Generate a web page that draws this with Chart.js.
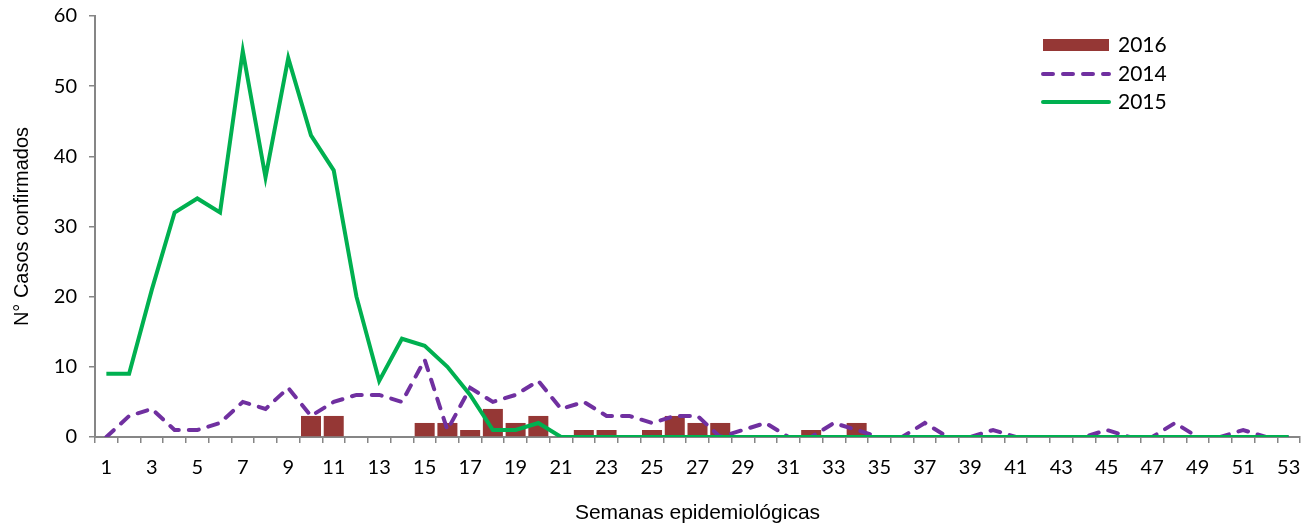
<!DOCTYPE html>
<html>
<head>
<meta charset="utf-8">
<script src="https://cdn.jsdelivr.net/npm/chart.js@4.4.1/dist/chart.umd.min.js"></script>
<style>
  body { margin: 0; background: #fff; }
  #wrap { width: 1314px; height: 527px; position: relative; }
</style>
</head>
<body>
<div id="wrap"><canvas id="myChart"></canvas></div>
<script>
// semanas epidemiologicas 1..53
var semanas = [];
for (var s = 1; s <= 53; s++) { semanas.push(String(s)); }

var casos2016 = [0,0,0,0,0,0,0,0,0,3,3,0,0,0,2,2,1,4,2,3,0,1,1,0,1,3,2,2,0,0,0,1,0,2,
                 0,0,0,0,0,0,0,0,0,0,0,0,0,0,0,0,0,0,0];
var casos2014 = [0,3,4,1,1,2,5,4,7,3,5,6,6,5,11,1,7,5,6,8,4,5,3,3,2,3,3,0,1,2,0,0,2,1,
                 0,0,2,0,0,1,0,0,0,0,1,0,0,2,0,0,1,0,0];
var casos2015 = [9,9,21,32,34,32,55,37,54,43,38,20,8,14,13,10,6,1,1,2,0,0,0,0,0,0,0,0,0,0,
                 0,0,0,0,0,0,0,0,0,0,0,0,0,0,0,0,0,0,0,0,0,0,0];
var yTicks = [0, 10, 20, 30, 40, 50, 60];

var rojo = '#953735';
var morado = '#7030A0';
var verde = '#00B050';
var gris = '#868686';

// leyenda vertical arriba a la derecha
var leyenda = {
    id: 'leyenda',
    afterDraw: function(chart) {
        var ctx = chart.ctx;
        var x0 = 1043, x1 = 1109, tx = 1118;
        ctx.save();
        ctx.fillStyle = rojo;
        ctx.fillRect(x0, 39, x1 - x0, 12);

        ctx.lineWidth = 4;
        ctx.lineCap = 'round';
        ctx.strokeStyle = morado;
        ctx.setLineDash([10, 10]);
        ctx.beginPath();
        ctx.moveTo(x0, 74);
        ctx.lineTo(x1, 74);
        ctx.stroke();

        ctx.setLineDash([]);
        ctx.strokeStyle = verde;
        ctx.beginPath();
        ctx.moveTo(x0, 102);
        ctx.lineTo(x1, 102);
        ctx.stroke();

        ctx.fillStyle = '#000';
        ctx.font = '21px Lato';
        ctx.textBaseline = 'middle';
        ctx.fillText('2016', tx, 45);
        ctx.fillText('2014', tx, 74);
        ctx.fillText('2015', tx, 102);
        ctx.restore();
    }
};

var ctx = document.getElementById('myChart').getContext('2d');
var config = {
    data: {
        labels: semanas,
        datasets: [{
            type: 'line',
            label: '2015',
            data: casos2015,
            borderColor: verde,
            borderWidth: 4,
            pointRadius: 0,
            tension: 0,
            order: 1
        }, {
            type: 'line',
            label: '2014',
            data: casos2014,
            borderColor: morado,
            borderWidth: 4,
            borderDash: [10, 10],
            borderCapStyle: 'round',
            pointRadius: 0,
            tension: 0,
            order: 2
        }, {
            type: 'bar',
            label: '2016',
            data: casos2016,
            backgroundColor: rojo,
            barPercentage: 0.88,
            categoryPercentage: 1,
            order: 3
        }]
    },
    options: {
        responsive: true,
        maintainAspectRatio: false,
        animation: false,
        layout: { padding: { top: 16, right: 14, left: 0, bottom: 0 } },
        plugins: {
            legend: { display: false },
            tooltip: { enabled: false }
        },
        scales: {
            x: {
                offset: true,
                grid: { drawOnChartArea: false, drawTicks: true, tickLength: 6, color: gris, offset: true, lineWidth: 1.5 },
                border: { display: true, color: gris, width: 2 },
                ticks: {
                    autoSkip: false,
                    maxRotation: 0,
                    padding: 13,
                    color: '#000',
                    font: { family: 'Lato', size: 20 },
                    callback: function(v, i) { return (i % 2 == 0) ? semanas[i] : ''; }
                },
                title: {
                    display: true,
                    text: 'Semanas epidemiológicas',
                    color: '#000',
                    font: { family: 'Liberation Sans', size: 21 },
                    padding: { top: 0, bottom: 1 }
                },
                afterFit: function(scale) { scale.height = 90; }
            },
            y: {
                min: 0,
                max: 60,
                afterBuildTicks: function(scale) {
                    scale.ticks = yTicks.map(function(v) { return { value: v }; });
                },
                grid: { drawOnChartArea: false, drawTicks: true, tickLength: 6, color: gris, lineWidth: 1.5 },
                border: { display: true, color: gris, width: 2 },
                ticks: {
                    padding: 12,
                    color: '#000',
                    font: { family: 'Lato', size: 20 }
                },
                title: {
                    display: true,
                    text: 'N° Casos confirmados',
                    color: '#000',
                    font: { family: 'Liberation Sans', size: 20 },
                    padding: { top: 10, bottom: 0 }
                },
                afterFit: function(scale) {
                    scale.width = 95;
                    scale.paddingTop = 0;
                    scale.paddingBottom = 0;
                }
            }
        }
    },
    plugins: [leyenda]
};
var myChart = new Chart(ctx, config);
</script>
</body>
</html>
